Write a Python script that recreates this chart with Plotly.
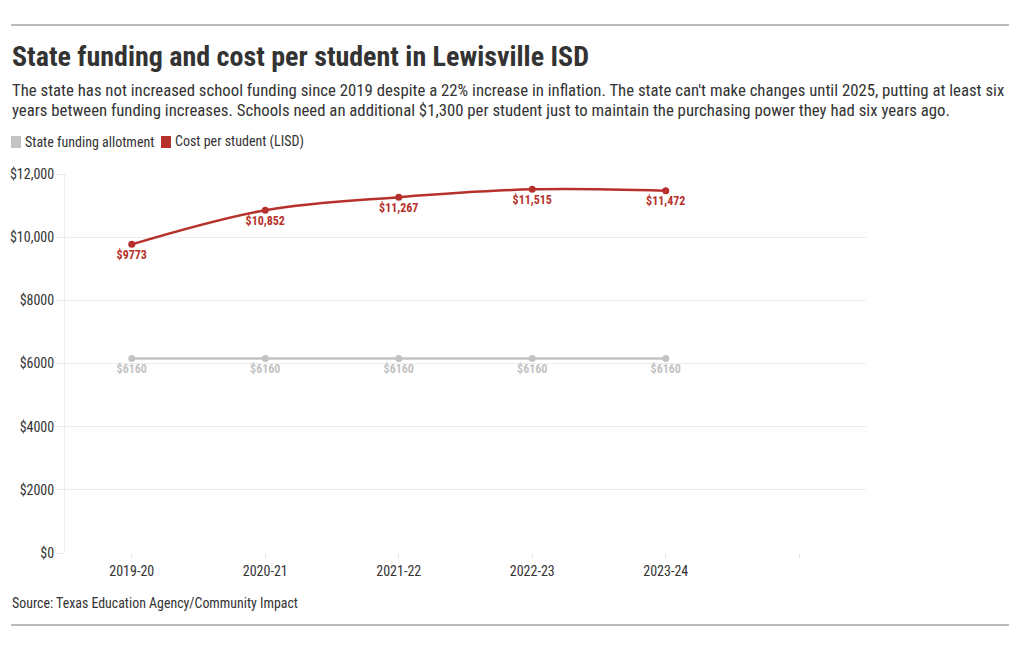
import plotly.graph_objects as go

years = ["2019-20", "2020-21", "2021-22", "2022-23", "2023-24", ""]
cats = ["2019-20", "2020-21", "2021-22", "2022-23", "2023-24"]
state_funding = [6160, 6160, 6160, 6160, 6160]
cost_per_student = [9773, 10852, 11267, 11515, 11472]
y_ticks = [0, 2000, 4000, 6000, 8000, 10000, 12000]
y_tick_text = ["$0", "$2000", "$4000", "$6000", "$8000", "$10,000", "$12,000"]

FONT = "Roboto Condensed, Liberation Sans Narrow, DejaVu Sans Condensed, sans-serif"
GRAY = "#c3c3c3"
RED = "#b7312c"
TEXT = "#333333"

OFF = 8  # page body margin compensation
FW, FH = 1020 - 2 * OFF, 650 - 2 * OFF


def fmt(v):
    return f"${v:,}" if v >= 10000 else f"${v}"


L, R, T, B = 65 - OFF, 866 - OFF, 174 - OFF, 553 - OFF
W, H = R - L, B - T


def px(x):
    return (x - OFF - L) / W


def py(y):
    return (B - (y - OFF)) / H


fig = go.Figure()
fig.add_trace(go.Scatter(
    x=cats, y=state_funding, mode="lines+markers+text",
    line=dict(color=GRAY, width=2.5, shape="spline"),
    marker=dict(size=7, color=GRAY),
    text=[fmt(v) for v in state_funding], textposition="bottom center",
    textfont=dict(family=FONT, size=12, color=GRAY, weight="bold"),
    name="State funding allotment", showlegend=False, cliponaxis=False,
))
fig.add_trace(go.Scatter(
    x=cats, y=cost_per_student, mode="lines+markers+text",
    line=dict(color=RED, width=2.5, shape="spline", smoothing=1.0),
    marker=dict(size=7, color=RED),
    text=[fmt(v) for v in cost_per_student], textposition="bottom center",
    textfont=dict(family=FONT, size=12, color=RED, weight="bold"),
    name="Cost per student (LISD)", showlegend=False, cliponaxis=False,
))

fig.update_xaxes(
    type="category", categoryorder="array", categoryarray=years,
    tickvals=years, ticktext=years, automargin=False,
    range=[-0.5, 5.5], showgrid=False, zeroline=False,
    showline=False, ticks="outside", ticklen=5, tickcolor="#e6e6e6",
    tickfont=dict(family=FONT, size=14, color=TEXT), fixedrange=True,
)
fig.update_yaxes(
    range=[0, 12000], tickvals=y_ticks, ticktext=y_tick_text, automargin=False,
    showgrid=True, gridcolor="#ececec", gridwidth=1, zeroline=False,
    showline=True, linecolor="#ececec", linewidth=1,
    ticks="outside", ticklen=7, tickcolor="#e6e6e6",
    tickfont=dict(family=FONT, size=14, color=TEXT), fixedrange=True,
)

shapes = [
    dict(type="line", xref="paper", yref="paper", x0=px(11), x1=px(1009), y0=py(25), y1=py(25),
         line=dict(color="#777777", width=1)),
    dict(type="line", xref="paper", yref="paper", x0=px(11), x1=px(1009), y0=py(625), y1=py(625),
         line=dict(color="#777777", width=1)),
    dict(type="rect", xref="paper", yref="paper", x0=px(11), x1=px(21), y0=py(136), y1=py(148),
         fillcolor=GRAY, line=dict(width=0)),
    dict(type="rect", xref="paper", yref="paper", x0=px(161), x1=px(171), y0=py(136), y1=py(148),
         fillcolor=RED, line=dict(width=0)),
]

annotations = [
    dict(text="<b>State funding and cost per student in Lewisville ISD</b>", xref="paper", yref="paper",
         x=px(10), y=py(56), xanchor="left", yanchor="middle", showarrow=False,
         font=dict(family=FONT, size=28, color=TEXT)),
    dict(text="The state has not increased school funding since 2019 despite a 22% increase in inflation. The state can't make changes until 2025, putting at least six",
         xref="paper", yref="paper", x=px(10), y=py(90), xanchor="left", yanchor="middle", align="left",
         showarrow=False, font=dict(family=FONT, size=16.75, color=TEXT)),
    dict(text="years between funding increases. Schools need an additional $1,300 per student just to maintain the purchasing power they had six years ago.",
         xref="paper", yref="paper", x=px(10), y=py(110), xanchor="left", yanchor="middle", align="left",
         showarrow=False, font=dict(family=FONT, size=16.75, color=TEXT)),
    dict(text="State funding allotment", xref="paper", yref="paper", x=px(23), y=py(142),
         xanchor="left", yanchor="middle", showarrow=False, font=dict(family=FONT, size=14, color=TEXT)),
    dict(text="Cost per student (LISD)", xref="paper", yref="paper", x=px(173), y=py(142),
         xanchor="left", yanchor="middle", showarrow=False, font=dict(family=FONT, size=14, color=TEXT)),
    dict(text="Source: Texas Education Agency/Community Impact", xref="paper", yref="paper", x=px(10), y=py(603),
         xanchor="left", yanchor="middle", showarrow=False, font=dict(family=FONT, size=13.9, color=TEXT)),
]

fig.update_layout(
    width=FW, height=FH,
    margin=dict(l=L, r=FW - R, t=T, b=FH - B),
    paper_bgcolor="white", plot_bgcolor="white",
    shapes=shapes, annotations=annotations, showlegend=False,
    font=dict(family=FONT, color=TEXT),
)

fig.write_html("out.html")
